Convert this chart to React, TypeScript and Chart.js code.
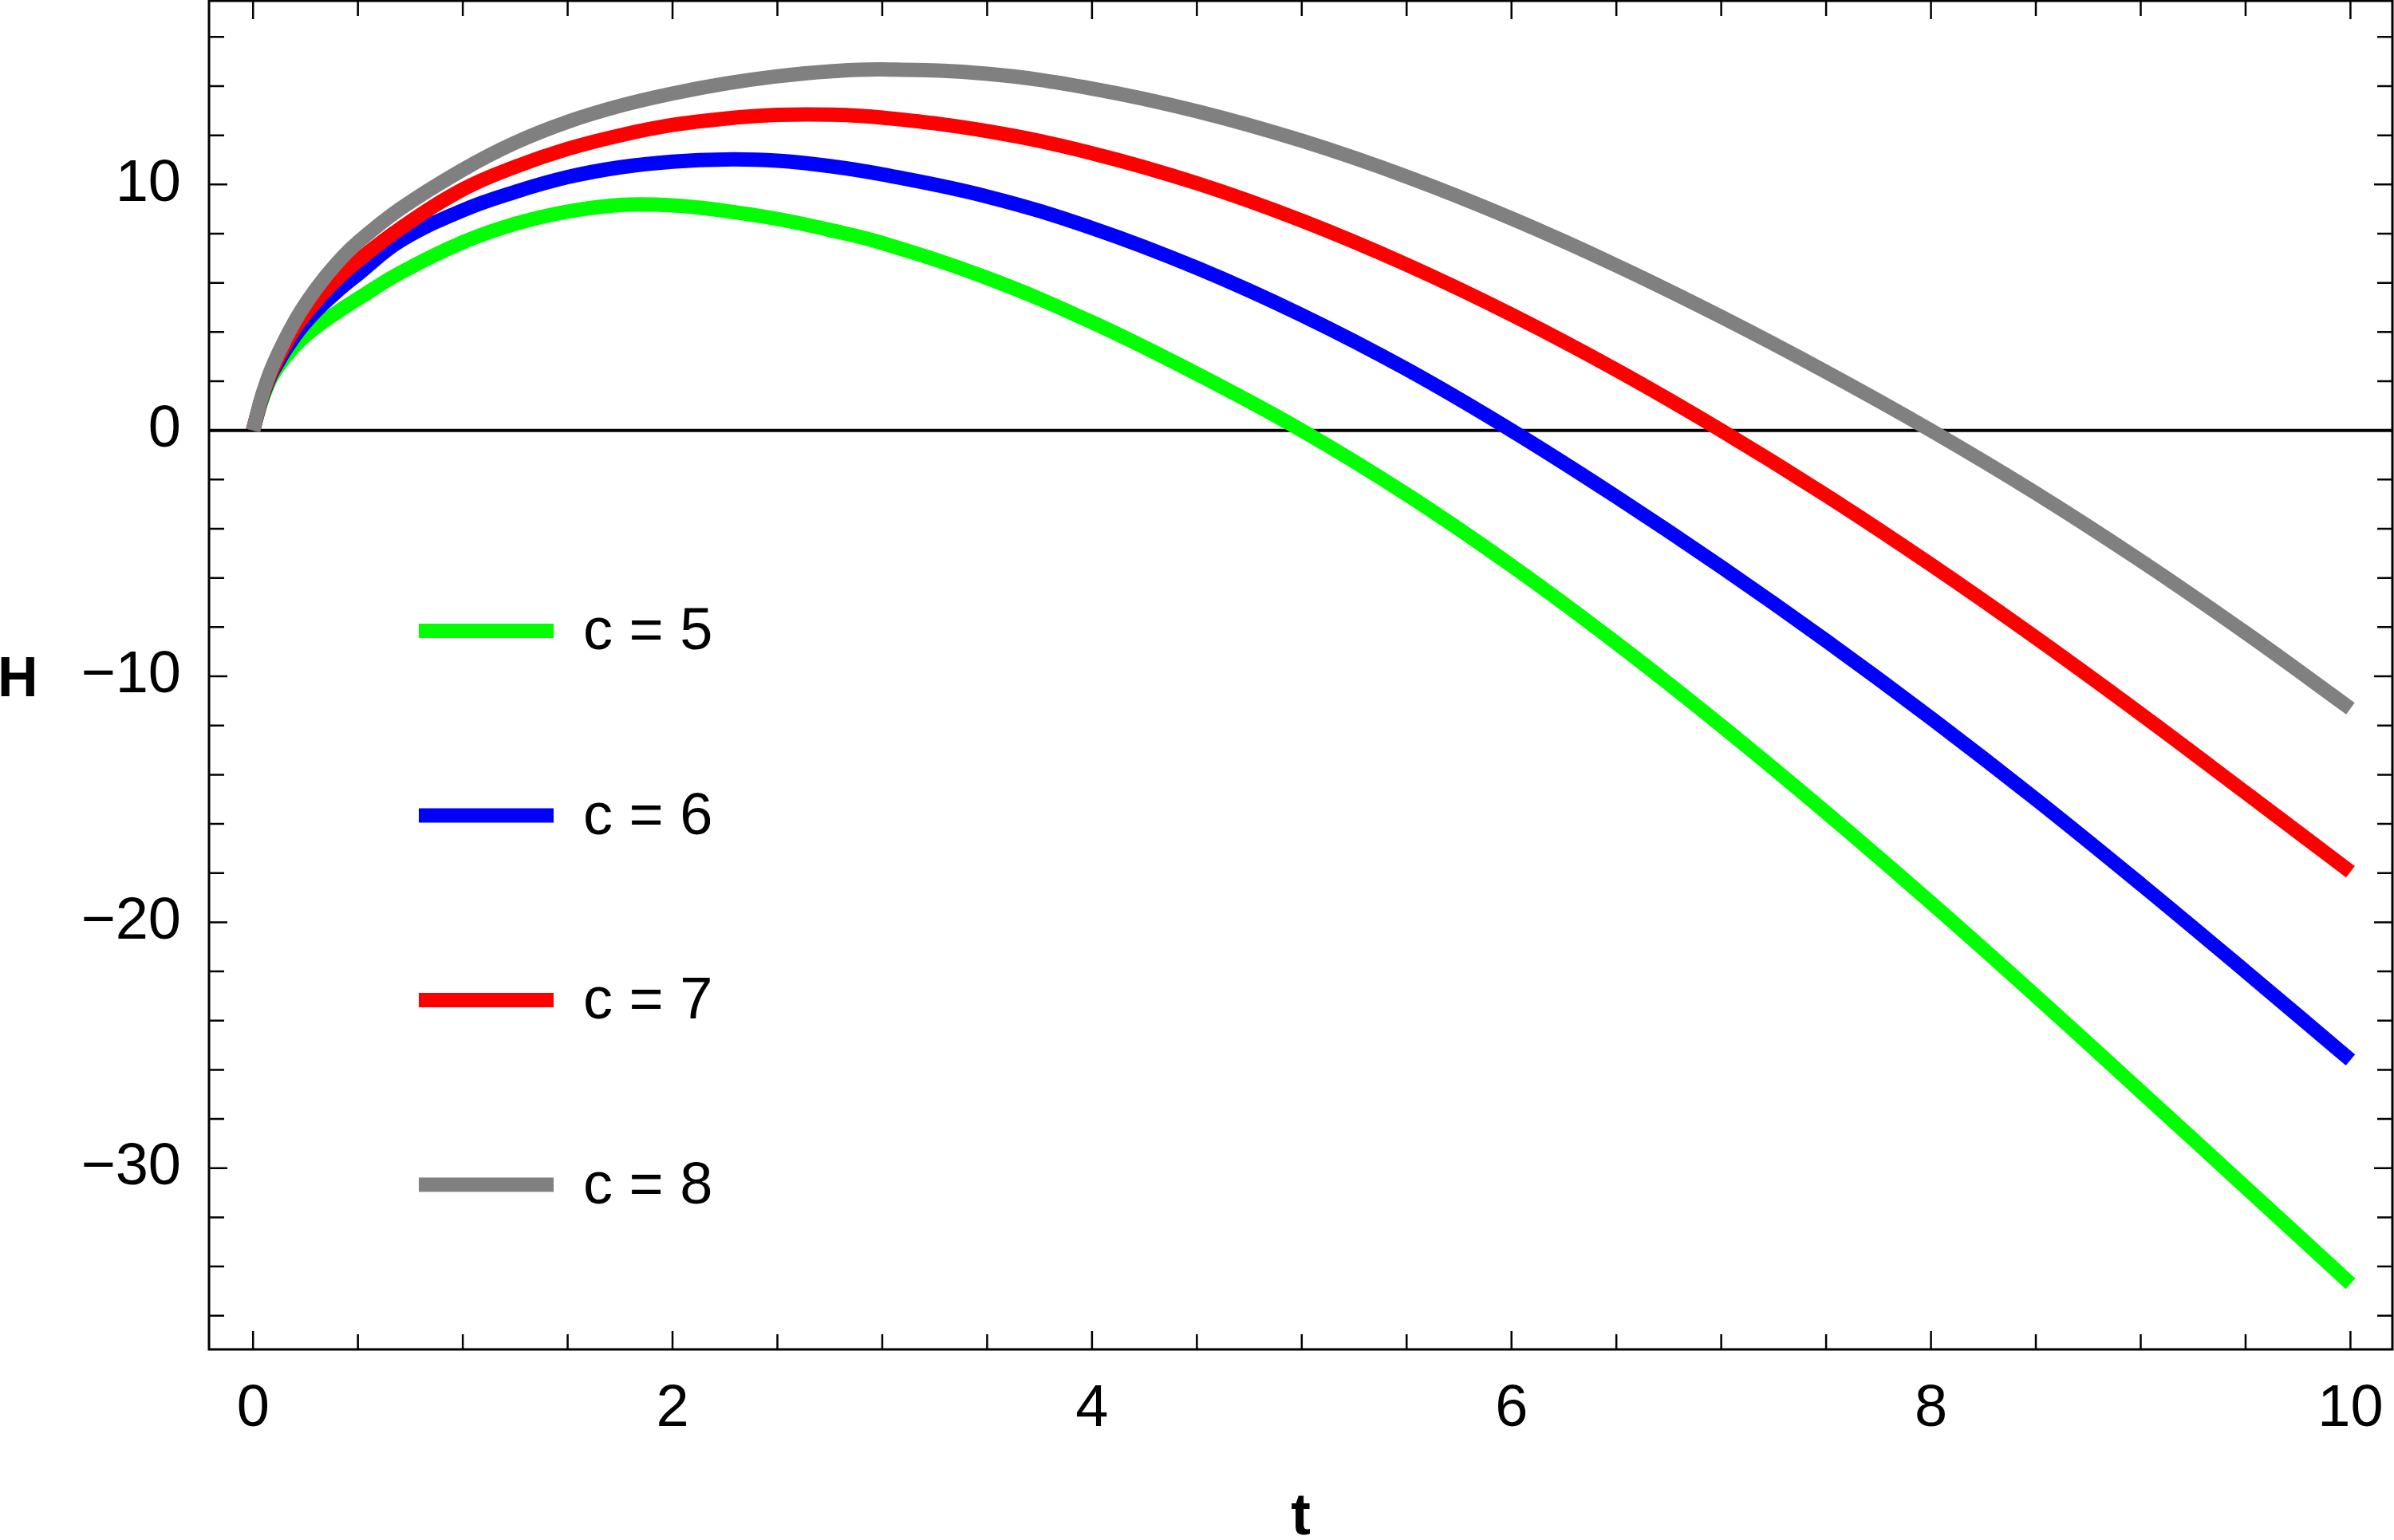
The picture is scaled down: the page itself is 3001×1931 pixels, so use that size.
import { useEffect, useRef } from 'react';
import { Chart, registerables } from 'chart.js';

Chart.register(...registerables);

// ---- data ----
const T = [0, 0.02, 0.05, 0.1, 0.2, 0.3, 0.4, 0.5, 0.7, 1.0, 1.25, 1.5, 1.75, 2, 2.25, 2.5, 2.75, 3, 3.5, 4, 4.5, 5, 5.5, 6, 6.5, 7, 7.5, 8, 8.5, 9, 9.5, 10];

const H_C5 = [0, 0.62, 1.42, 2.35, 3.45, 4.2, 4.8, 5.35, 6.4, 7.65, 8.4, 8.9, 9.17, 9.15, 8.93, 8.6, 8.15, 7.62, 6.2, 4.4, 2.3, 0, -2.6, -5.5, -8.65, -12.01, -15.54, -19.21, -23.0, -26.88, -30.78, -34.7];
const H_C6 = [0, 0.64, 1.5, 2.5, 3.85, 4.85, 5.65, 6.35, 7.7, 8.95, 9.7, 10.3, 10.7, 10.93, 11.02, 10.97, 10.75, 10.41, 9.51, 8.23, 6.61, 4.69, 2.49, 0, -2.7, -5.55, -8.55, -11.7, -15.0, -18.45, -22.0, -25.6];
const H_C7 = [0, 0.66, 1.55, 2.6, 4.15, 5.25, 6.15, 6.9, 8.2, 9.8, 10.72, 11.45, 12.0, 12.42, 12.68, 12.83, 12.84, 12.72, 12.17, 11.27, 10.05, 8.53, 6.74, 4.71, 2.46, 0, -2.64, -5.46, -8.43, -11.53, -14.73, -17.95];
const H_C8 = [0, 0.68, 1.6, 2.75, 4.45, 5.75, 6.8, 7.65, 9.0, 10.6, 11.7, 12.55, 13.2, 13.7, 14.1, 14.4, 14.6, 14.68, 14.5, 13.9, 12.98, 11.78, 10.32, 8.62, 6.71, 4.62, 2.38, 0, -2.55, -5.3, -8.23, -11.31];

const SERIES = [H_C5, H_C6, H_C7, H_C8];
const SERIES_LABELS = ['c = 5', 'c = 6', 'c = 7', 'c = 8'];
const SERIES_COLORS = ['#00ff00', '#0000ff', '#ff0000', '#808080'];

const X_TICKS = [0, 2, 4, 6, 8, 10];
const Y_TICKS = [-30, -20, -10, 0, 10];
const X_MINOR_TICKS = [0.5, 1, 1.5, 2.5, 3, 3.5, 4.5, 5, 5.5, 6.5, 7, 7.5, 8.5, 9, 9.5];
const Y_MINOR_TICKS = [-36, -34, -32, -28, -26, -24, -22, -18, -16, -14, -12, -8, -6, -4, -2, 2, 4, 6, 8, 12, 14, 16];

const X_MIN = -0.21;
const X_MAX = 10.2;
const Y_MIN = -37.37;
const Y_MAX = 17.47;

const X_TITLE = 't';
const Y_TITLE = 'H';

const FONT = '"Liberation Sans", Arial, sans-serif';
const LINE_W = 18;

const fmt = (v: number) => (v < 0 ? '\u2212' + Math.abs(v) : String(v));

const framePlugin = {
  id: 'mmaFrame',
  beforeDatasetsDraw(chart: any) {
    const { ctx, chartArea: a, scales } = chart;
    const y0 = scales.y.getPixelForValue(0);
    ctx.save();
    ctx.strokeStyle = '#000';
    ctx.lineWidth = 4;
    ctx.beginPath();
    ctx.moveTo(a.left, y0);
    ctx.lineTo(a.right, y0);
    ctx.stroke();
    ctx.restore();
  },
  afterDatasetsDraw(chart: any) {
    const { ctx, chartArea: a, scales } = chart;
    const x = scales.x;
    const y = scales.y;
    ctx.save();
    ctx.strokeStyle = '#000';
    ctx.lineWidth = 3;
    ctx.strokeRect(a.left, a.top, a.right - a.left, a.bottom - a.top);
    ctx.lineWidth = 2.5;
    const major = 23;
    const minor = 19;
    const drawX = (v: number, len: number) => {
      const p = x.getPixelForValue(v);
      ctx.beginPath();
      ctx.moveTo(p, a.bottom);
      ctx.lineTo(p, a.bottom - len);
      ctx.moveTo(p, a.top);
      ctx.lineTo(p, a.top + len);
      ctx.stroke();
    };
    const drawY = (v: number, len: number) => {
      const p = y.getPixelForValue(v);
      ctx.beginPath();
      ctx.moveTo(a.left, p);
      ctx.lineTo(a.left + len, p);
      ctx.moveTo(a.right, p);
      ctx.lineTo(a.right - len, p);
      ctx.stroke();
    };
    X_TICKS.forEach((v) => drawX(v, major));
    X_MINOR_TICKS.forEach((v) => drawX(v, minor));
    Y_TICKS.forEach((v) => drawY(v, major));
    Y_MINOR_TICKS.forEach((v) => drawY(v, minor));
    ctx.restore();
  },
  afterDraw(chart: any) {
    const { ctx, chartArea: a } = chart;
    ctx.save();
    ctx.fillStyle = '#000';
    ctx.font = `bold 74px ${FONT}`;
    ctx.textAlign = 'center';
    ctx.textBaseline = 'alphabetic';
    ctx.fillText(X_TITLE, (a.left + a.right) / 2, 1924);
    ctx.font = `bold 70px ${FONT}`;
    ctx.textAlign = 'left';
    ctx.fillText(Y_TITLE, -3, 873);
    const ds = chart.data.datasets;
    ds.forEach((d: any, k: number) => {
      const cy = 791 + 231.5 * k;
      ctx.strokeStyle = d.borderColor;
      ctx.lineWidth = LINE_W;
      ctx.lineCap = 'butt';
      ctx.beginPath();
      ctx.moveTo(525, cy);
      ctx.lineTo(694, cy);
      ctx.stroke();
      ctx.fillStyle = '#000';
      ctx.font = `74px ${FONT}`;
      ctx.textAlign = 'left';
      ctx.textBaseline = 'middle';
      ctx.fillText(d.label, 731, cy + 3);
    });
    ctx.restore();
  },
};

export default function App() {
  const ref = useRef<HTMLCanvasElement | null>(null);
  useEffect(() => {
    document.body.style.margin = '0';
    const canvas = ref.current;
    if (!canvas) return;
    const chart = new Chart(canvas, {
      type: 'line',
      data: {
        datasets: SERIES.map((vals, i) => ({
          label: SERIES_LABELS[i],
          data: T.map((t, j) => ({ x: t, y: vals[j] })),
          borderColor: SERIES_COLORS[i],
          backgroundColor: SERIES_COLORS[i],
          borderWidth: LINE_W,
          pointRadius: 0,
          pointHoverRadius: 0,
          fill: false,
          tension: 0.4,
          borderCapStyle: 'butt' as const,
          order: SERIES.length - i,
        })),
      },
      options: {
        animation: false,
        responsive: false,
        devicePixelRatio: 1,
        events: [],
        layout: { padding: { top: 1, right: 2, left: 0, bottom: 0 } },
        plugins: {
          legend: { display: false },
          tooltip: { enabled: false },
          title: { display: false },
        },
        scales: {
          x: {
            type: 'linear',
            min: X_MIN,
            max: X_MAX,
            grid: { display: false },
            border: { display: false },
            afterBuildTicks: (s: any) => {
              s.ticks = X_TICKS.map((v) => ({ value: v }));
            },
            afterFit: (s: any) => {
              s.height = 239;
              s.paddingLeft = 0;
              s.paddingRight = 0;
              s.paddingTop = 0;
              s.paddingBottom = 0;
            },
            ticks: {
              autoSkip: false,
              maxRotation: 0,
              minRotation: 0,
              padding: 23,
              color: '#000',
              font: { family: FONT, size: 74 },
              callback: (v: any) => fmt(Number(v)),
            },
          },
          y: {
            type: 'linear',
            min: Y_MIN,
            max: Y_MAX,
            grid: { display: false },
            border: { display: false },
            afterBuildTicks: (s: any) => {
              s.ticks = Y_TICKS.map((v) => ({ value: v }));
            },
            afterFit: (s: any) => {
              s.width = 262;
              s.paddingLeft = 0;
              s.paddingRight = 0;
              s.paddingTop = 0;
              s.paddingBottom = 0;
            },
            ticks: {
              autoSkip: false,
              padding: 27,
              color: '#000',
              font: { family: FONT, size: 74 },
              callback: (v: any) => fmt(Number(v)),
            },
          },
        },
      },
      plugins: [framePlugin],
    });
    return () => chart.destroy();
  }, []);
  return (
    <div style={{ position: 'fixed', left: 0, top: 0, width: 3001, height: 1931, background: '#fff' }}>
      <canvas ref={ref} width={3001} height={1931} style={{ display: 'block' }} />
    </div>
  );
}
